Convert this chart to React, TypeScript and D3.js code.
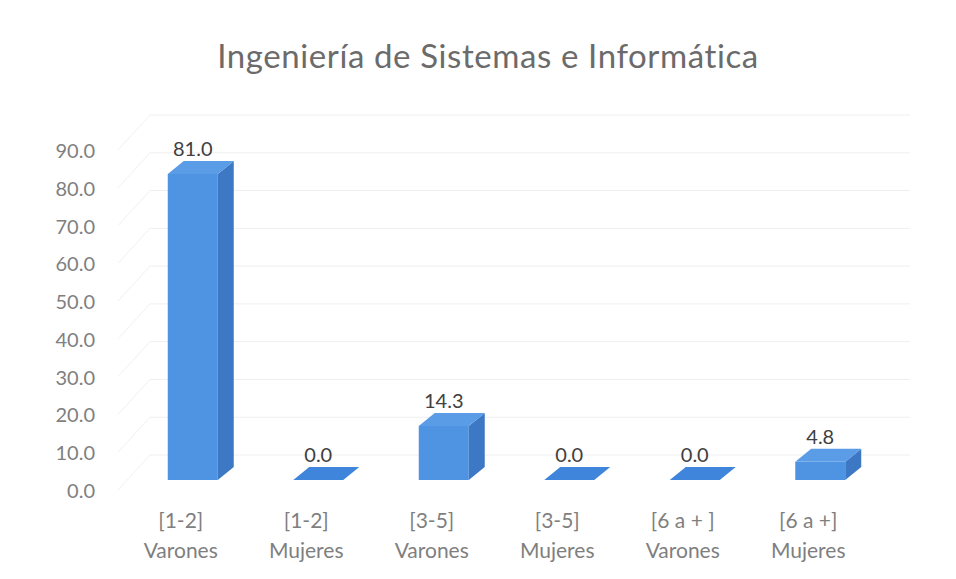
import React from "react";
import * as d3 from "d3";

const title = "Ingeniería de Sistemas e Informática";
const categories = ["[1-2]|Varones", "[1-2]|Mujeres", "[3-5]|Varones", "[3-5]|Mujeres", "[6 a + ]|Varones", "[6 a +]|Mujeres"];
const values = [81.0, 0.0, 14.3, 0.0, 0.0, 4.8];
const yTicks = [0, 10, 20, 30, 40, 50, 60, 70, 80, 90];

const W = 956, H = 579;
const DX = 16, DY = 13;

export default function App() {
  const y = d3.scaleLinear().domain([0, 90]).range([480, 480 - 340]);
  const yBack = d3.scaleLinear().domain([0, 90]).range([455, 115]);
  const x = d3.scaleBand().domain(categories).range([130, 883]).paddingInner(0.6).paddingOuter(0.3);
  const bw = 50;
  const font = "Lato, 'Open Sans', sans-serif";
  return (
    <svg width={W} height={H} style={{ position: "absolute", left: 0, top: 0, background: "#fff" }}>
      <rect width={W} height={H} fill="#fff" />
      <text x={488} y={68} textAnchor="middle" fontFamily={font} fontSize={33} letterSpacing={0.6} fill="#6b6b6b">{title}</text>
      {yTicks.map(t => (
        <g key={t}>
          <line x1={150} x2={910} y1={yBack(t)} y2={yBack(t)} stroke="#efefef" strokeWidth={1} />
          <line x1={118} x2={150} y1={y(t) + 10} y2={yBack(t)} stroke="#f1f1f1" strokeWidth={1} />
          <text x={95} y={y(t) + 11} dy="0.35em" textAnchor="end" fontFamily={font} fontSize={20} fill="#7f7f7f">{t.toFixed(1)}</text>
        </g>
      ))}
      {categories.map((c, i) => {
        const cx = (x(c) as number) + x.bandwidth() / 2;
        const x0 = cx - bw / 2, x1 = cx + bw / 2;
        const yt = y(values[i]), yb = y(0);
        const top = `M${x0},${yt} L${x0 + DX},${yt - DY} L${x1 + DX},${yt - DY} L${x1},${yt} Z`;
        const side = `M${x1},${yt} L${x1 + DX},${yt - DY} L${x1 + DX},${yb - DY} L${x1},${yb} Z`;
        const [l1, l2] = c.split("|");
        return (
          <g key={c}>
            {values[i] > 0 && <rect x={x0} y={yt} width={bw} height={yb - yt} fill="#4f93e3" />}
            {values[i] > 0 && <path d={side} fill="#3c78c4" />}
            <path d={top} fill={values[i] > 0 ? "#5a9ce6" : "#3f85dc"} />
            <text x={cx} y={yt - DY - 5} textAnchor="middle" fontFamily={font} fontSize={20} fill="#404040">{values[i].toFixed(1)}</text>
            <text x={cx - 12} y={528} textAnchor="middle" fontFamily={font} fontSize={21} fill="#7f7f7f">{l1}</text>
            <text x={cx - 12} y={558} textAnchor="middle" fontFamily={font} fontSize={21} fill="#7f7f7f">{l2}</text>
          </g>
        );
      })}
    </svg>
  );
}
